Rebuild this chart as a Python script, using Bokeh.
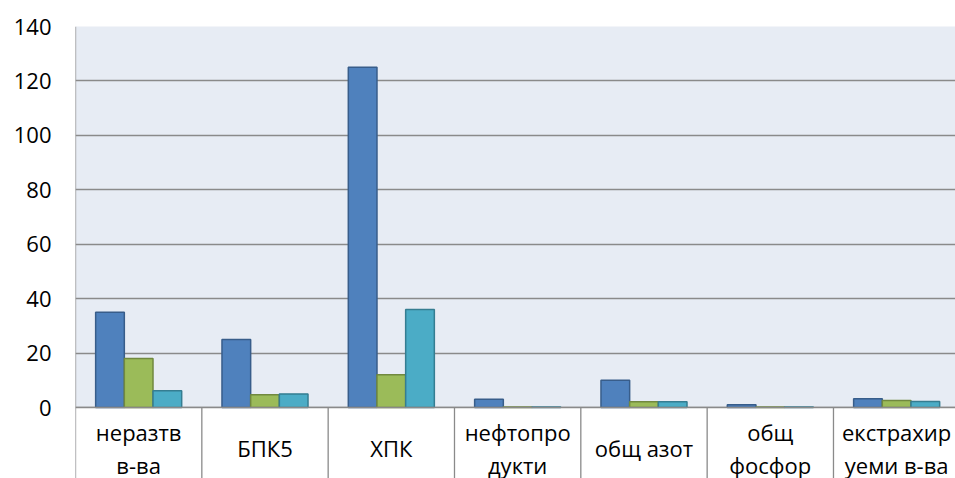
from bokeh.plotting import figure
from bokeh.models import FixedTicker, ColumnDataSource, Range1d
from bokeh.core.properties import value
from bokeh.embed import file_html
from bokeh.resources import INLINE

categories = ["неразтв\nв-ва", "БПК5", "ХПК", "нефтопро\nдукти", "общ азот", "общ\nфосфор", "екстрахир\nуеми в-ва"]
series_blue = [35, 25, 125, 3, 10, 1, 3.2]
series_green = [18, 4.7, 12, 0.2, 2.1, 0.2, 2.6]
series_teal = [6.2, 5, 36, 0.2, 2.1, 0.2, 2.2]
y_ticks = [0, 20, 40, 60, 80, 100, 120, 140]

colors = ["#4F81BD", "#9BBB59", "#4BACC6"]
edges = ["#385D8A", "#71893F", "#357D91"]

n = len(categories)
y_top = 140
px_per_unit = 381 / 140
band = 71 / px_per_unit
font = "Open Sans"

p = figure(width=955, height=478, output_backend="svg", toolbar_location=None,
           x_range=Range1d(0, 880 / 126.33), y_range=Range1d(-band, y_top),
           min_border_left=75, min_border_right=0, min_border_top=26, min_border_bottom=0)
p.outline_line_color = None
p.background_fill_color = "#E7ECF4"
p.border_fill_color = "white"
p.xaxis.visible = False
p.xgrid.visible = False

p.ygrid.ticker = FixedTicker(ticks=y_ticks)
p.ygrid.grid_line_color = "#8A8A8A"
p.ygrid.grid_line_width = 1.3

ya = p.yaxis[0]
ya.ticker = FixedTicker(ticks=y_ticks)
ya.axis_line_color = None
ya.major_tick_line_color = None
ya.minor_tick_line_color = None
ya.major_tick_out = 0
ya.major_tick_in = 0
ya.major_label_standoff = 24
ya.major_label_text_font = font
ya.major_label_text_font_size = "22px"
ya.major_label_text_color = "black"

# white band for category labels
p.quad(left=[0], right=[7], bottom=[-band], top=[0], fill_color="white", line_color=None)

bw = 0.227
centers = [i + 0.5 for i in range(n)]
for k, (vals, c, e) in enumerate(zip([series_blue, series_green, series_teal], colors, edges)):
    xs = [x + (k - 1) * bw for x in centers]
    p.vbar(x=xs, top=vals, bottom=0, width=bw, fill_color=c, line_color=e, line_width=1.5)

# axis line at zero and separators
p.segment(x0=[0], y0=[0], x1=[7], y1=[0], line_color="#8A8A8A", line_width=1.5)
bounds = list(range(n + 1))
p.segment(x0=bounds, y0=[-band] * len(bounds), x1=bounds, y1=[0] * len(bounds),
          line_color="#8A8A8A", line_width=1.3)
p.segment(x0=[0], y0=[0], x1=[0], y1=[y_top], line_color="#8A8A8A", line_width=1.3)

src = ColumnDataSource(dict(x=centers, y=[-40.5 / px_per_unit] * n, t=categories))
p.text(x="x", y="y", text="t", source=src, text_align="center", text_baseline="middle",
       text_font=value(font), text_font_size="22px", text_color="black", text_line_height=1.1)

open("out.html", "w").write(file_html(p, INLINE))
